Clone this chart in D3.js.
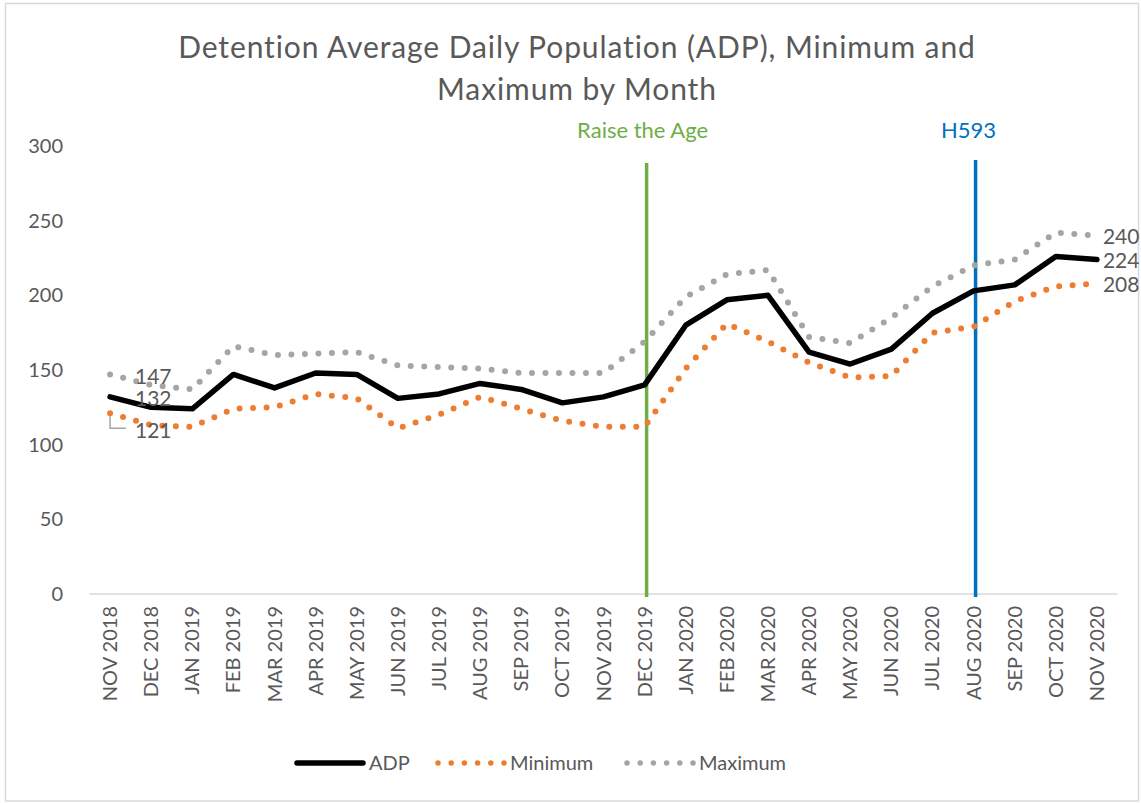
<html>
<head>
    <title>Detention ADP</title>
    <meta charset="utf-8" />
    <script src="https://cdn.jsdelivr.net/npm/d3@7/dist/d3.min.js"></script>
</head>
<style>
    body { margin: 0; background: #fff; }
    svg { font-family: Lato, "Open Sans", sans-serif; }
    .tick-y, .tick-x, .legend text, .dlabel { fill: #595959; }
</style>
<body>
    <svg id="chart" width="1141" height="803"></svg>
<script>
    var months = ["NOV 2018", "DEC 2018", "JAN 2019", "FEB 2019", "MAR 2019", "APR 2019", "MAY 2019",
        "JUN 2019", "JUL 2019", "AUG 2019", "SEP 2019", "OCT 2019", "NOV 2019", "DEC 2019",
        "JAN 2020", "FEB 2020", "MAR 2020", "APR 2020", "MAY 2020", "JUN 2020", "JUL 2020",
        "AUG 2020", "SEP 2020", "OCT 2020", "NOV 2020"];
    var adp = [132, 125, 124, 147, 138, 148, 147, 131, 134, 141, 137, 128, 132, 140,
        180, 197, 200, 162, 154, 164, 188, 203, 207, 226, 224];
    var minimum = [121, 113, 112, 124, 125, 134, 131, 111, 120, 132, 124, 116, 112, 112,
        151, 181, 169, 155, 145, 146, 175, 179, 196, 206, 208];
    var maximum = [147, 140, 137, 166, 160, 161, 162, 153, 152, 151, 148, 148, 148, 169,
        199, 214, 217, 172, 168, 185, 206, 220, 224, 242, 240];
    var yTicks = [0, 50, 100, 150, 200, 250, 300];
    var eventMonths = ["DEC 2019", "AUG 2020"];
    var eventLabels = ["Raise the Age", "H593"];
    var eventColors = ["#70AD47", "#0070C0"];

    var svg = d3.select("#chart");
    svg.append("rect").attr("width", 1141).attr("height", 803).attr("fill", "#fff");
    svg.append("rect")
        .attr("x", 5.5).attr("y", 3.5).attr("width", 1133).attr("height", 797.5)
        .attr("fill", "none").attr("stroke", "#D9D9D9").attr("stroke-width", 1.5);

    var x = d3.scalePoint().domain(months).range([89.5, 1117.5]).padding(0.5);
    var y = d3.scaleLinear().domain([0, 300]).range([594, 146]);

    // title
    var title = svg.append("text").attr("text-anchor", "middle")
        .attr("fill", "#595959").style("font-size", "30px").style("letter-spacing", "0.9px");
    title.append("tspan").attr("x", 577).attr("y", 58)
        .text("Detention Average Daily Population (ADP), Minimum and");
    title.append("tspan").attr("x", 577).attr("y", 100).text("Maximum by Month");

    // y axis labels (no line, like excel)
    svg.selectAll("text.tick-y").data(yTicks).enter().append("text")
        .classed("tick-y", true)
        .attr("x", 63).attr("y", function(d) { return y(d); })
        .attr("dy", "0.35em").attr("text-anchor", "end")
        .style("font-size", "20px")
        .text(function(d) { return d; });

    // x axis
    svg.append("line").attr("x1", 89.5).attr("x2", 1117.5)
        .attr("y1", y(0)).attr("y2", y(0))
        .attr("stroke", "#D9D9D9").attr("stroke-width", 1.5);

    svg.selectAll("text.tick-x").data(months).enter().append("text")
        .classed("tick-x", true)
        .attr("transform", function(d) { return "translate(" + x(d) + ",606) rotate(-90)"; })
        .attr("text-anchor", "end").attr("dy", "0.35em")
        .style("font-size", "20px")
        .text(function(d) { return d; });

    // event lines
    var labelShift = [-2, -5];
    eventMonths.forEach(function(m, i) {
        svg.append("line")
            .attr("x1", x(m) + 2).attr("x2", x(m) + 2)
            .attr("y1", i == 0 ? 163 : 160).attr("y2", 597)
            .attr("stroke", eventColors[i]).attr("stroke-width", 3.5);
        svg.append("text")
            .attr("x", x(m) + labelShift[i]).attr("y", 138)
            .attr("text-anchor", "middle")
            .attr("fill", eventColors[i])
            .style("font-size", "22px")
            .text(eventLabels[i]);
    });

    // series
    var line = d3.line()
        .x(function(d, i) { return x(months[i]); })
        .y(function(d) { return y(d); });

    svg.append("path").datum(maximum)
        .attr("d", line).attr("fill", "none")
        .attr("stroke", "#A5A5A5").attr("stroke-width", 6)
        .attr("stroke-linecap", "round").attr("stroke-dasharray", "0 13.5");
    svg.append("path").datum(minimum)
        .attr("d", line).attr("fill", "none")
        .attr("stroke", "#ED7D31").attr("stroke-width", 6)
        .attr("stroke-linecap", "round").attr("stroke-dasharray", "0 13.5");
    svg.append("path").datum(adp)
        .attr("d", line).attr("fill", "none")
        .attr("stroke", "#000").attr("stroke-width", 5.5)
        .attr("stroke-linejoin", "round").attr("stroke-linecap", "round");

    // data labels at first and last month
    var first = months[0], last = months[months.length - 1];
    svg.append("path")
        .attr("d", "M" + x(first) + "," + (y(minimum[0]) + 3) + "V" + (y(minimum[0]) + 15) + "H" + (x(first) + 16))
        .attr("fill", "none").attr("stroke", "#A5A5A5").attr("stroke-width", 1.5);
    var firstLabels = [[maximum[0], y(maximum[0]) + 2], [adp[0], y(adp[0]) + 2], [minimum[0], y(minimum[0]) + 17]];
    firstLabels.forEach(function(p) {
        svg.append("text").classed("dlabel", true)
            .attr("x", 135).attr("y", p[1]).attr("dy", "0.35em")
            .style("font-size", "21px").text(p[0]);
    });
    var n = months.length - 1;
    [[maximum[n], y(maximum[n])], [adp[n], y(adp[n])], [minimum[n], y(minimum[n])]].forEach(function(p) {
        svg.append("text").classed("dlabel", true)
            .attr("x", x(last) + 6).attr("y", p[1] + 1).attr("dy", "0.35em")
            .style("font-size", "21px").text(p[0]);
    });

    // legend
    var legendNames = ["ADP", "Minimum", "Maximum"];
    var legendX = [297, 438, 627];
    var legend = svg.append("g").classed("legend", true);
    legendNames.forEach(function(name, i) {
        var ly = 763;
        var l = legend.append("line")
            .attr("x1", legendX[i]).attr("x2", legendX[i] + 66)
            .attr("y1", ly).attr("y2", ly)
            .attr("stroke-linecap", "round");
        if (i == 0) {
            l.attr("stroke", "#000").attr("stroke-width", 5.5);
        } else {
            l.attr("stroke", i == 1 ? "#ED7D31" : "#A5A5A5")
                .attr("stroke-width", 5.5).attr("stroke-dasharray", "0 13.2");
        }
        legend.append("text")
            .attr("x", legendX[i] + 72).attr("y", ly).attr("dy", "0.35em")
            .style("font-size", "20px").text(name);
    });
</script>
</body>
</html>
